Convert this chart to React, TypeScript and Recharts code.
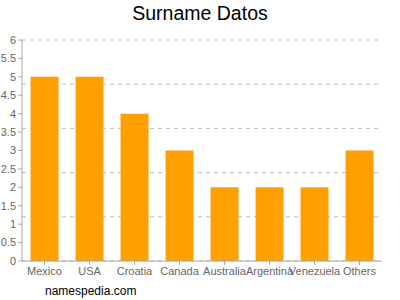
import React from 'react';
import { BarChart, Bar, XAxis, YAxis, CartesianGrid } from 'recharts';

const categories = ['Mexico', 'USA', 'Croatia', 'Canada', 'Australia', 'Argentina', 'Venezuela', 'Others'];
const counts = [5, 5, 4, 3, 2, 2, 2, 3];
const yTicks = [0, 0.5, 1, 1.5, 2, 2.5, 3, 3.5, 4, 4.5, 5, 5.5, 6];
const gridValues = [0, 1.2, 2.4, 3.6, 4.8, 6];
const yMax = 6;

const data = categories.map((name, i) => ({ name, value: counts[i] }));

const font = '"Liberation Sans", Arial, sans-serif';

const gridGen = (args: any) => {
  const yAxis = args && args.yAxis;
  if (yAxis && typeof yAxis.scale === 'function') {
    return gridValues.map((v) => yAxis.scale(v));
  }
  const off = args.offset;
  return gridValues.map((v) => off.top + off.height * (1 - v / yMax));
};

export default function App() {
  return (
    <div style={{ position: 'absolute', left: 0, top: 0, width: 400, height: 300, background: '#fff', fontFamily: font }}>
      <div style={{ position: 'absolute', left: 0, top: 2, width: 400, textAlign: 'center', fontSize: 19.5, color: '#000' }}>
        Surname Datos
      </div>
      <BarChart
        width={400}
        height={300}
        data={data}
        margin={{ top: 40, right: 18, left: 0, bottom: 9 }}
        barCategoryGap="19%"
      >
        <CartesianGrid
          vertical={false}
          stroke="#bbb"
          strokeDasharray="4 4"
          horizontalCoordinatesGenerator={gridGen}
        />
        <XAxis
          dataKey="name"
          interval={0}
          height={30}
          tickSize={4}
          tickMargin={2}
          stroke="#aaa"
          tick={{ fill: '#666', fontSize: 11, fontFamily: font }}
        />
        <YAxis
          width={22}
          domain={[0, yMax]}
          ticks={yTicks}
          interval={0}
          tickSize={4}
          tickMargin={2}
          stroke="#aaa"
          tick={{ fill: '#666', fontSize: 11, fontFamily: font }}
        />
        <Bar dataKey="value" fill="#ffa000" isAnimationActive={false} />
      </BarChart>
      <div style={{ position: 'absolute', left: 45, top: 284, fontSize: 12, color: '#000' }}>
        namespedia.com
      </div>
    </div>
  );
}
